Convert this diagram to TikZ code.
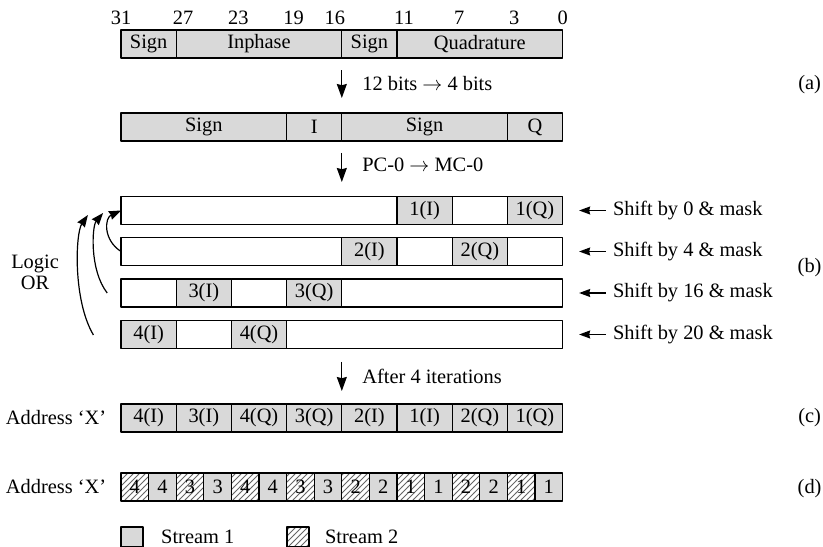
\documentclass[tikz,border=0pt]{standalone}
\usepackage{fontspec}
\setmainfont{Liberation Serif}
\usetikzlibrary{arrows.meta,patterns}

\begin{document}
\begin{tikzpicture}[x={(6.9pt,0pt)}, y={(0pt,-0.5pt)}, font=\fontsize{10.2}{12}\selectfont, line join=round,
  cell/.style={draw, line width=0.6pt, minimum height=14pt, inner sep=0pt, outer sep=0pt, anchor=west},
  grey/.style={cell, fill=black!15},
  hatch/.style={cell, pattern=north east lines, pattern color=black!60},
  down/.style={-{Stealth[length=7pt,width=5pt,inset=0.6pt]}, line width=0.6pt},
  back/.style={-{Stealth[length=5.5pt,width=4pt,inset=0.5pt]}, line width=0.6pt},
  orarrow/.style={-{Stealth[length=6pt,width=4.5pt,inset=0.5pt]}, line width=0.6pt}]
  \useasboundingbox (-8.77,0) rectangle (50.87,547);

  % numéros de bits (x en bits, y en px)
  \foreach \b/\x in {31/0, 27/4.5, 23/8.5, 19/12.5, 16/15.5, 11/20.5, 7/24.5, 3/28.5, 0/32}
    \node (bit\b) at (\x,18) {\b};

  % (a) mot de 32 bits
  \foreach \s/\w/\t in {0/4/Sign, 4/12/Inphase, 16/4/Sign, 20/12/Quadrature}
    \node[grey, minimum width=\w*6.9pt] (a\s) at (\s,44) {\t};
  \coordinate (d1a) at (16,70);
  \coordinate (d1b) at (16,98);
  \draw[down] (d1a) -- (d1b);
  \node[anchor=west] (lab1) at (16.98,84) {12 bits $\rightarrow$ 4 bits};

  \foreach \s/\w/\t in {0/12/Sign, 12/4/I, 16/12/Sign, 28/4/Q}
    \node[grey, minimum width=\w*6.9pt] (r\s) at (\s,127) {\t};
  \coordinate (d2a) at (16,153);
  \coordinate (d2b) at (16,182);
  \draw[down] (d2a) -- (d2b);
  \node[anchor=west] (lab2) at (16.98,165) {PC-0 $\rightarrow$ MC-0};

  % (b) décalage et masque
  \foreach \s/\w/\t/\f in {0/20//cell, 20/4/1(I)/grey, 24/4//cell, 28/4/1(Q)/grey}
    \node[\f, minimum width=\w*6.9pt] (b1-\s) at (\s,210.5) {\t};
  \foreach \s/\w/\t/\f in {0/16//cell, 16/4/2(I)/grey, 20/4//cell, 24/4/2(Q)/grey, 28/4//cell}
    \node[\f, minimum width=\w*6.9pt] (b2-\s) at (\s,251.5) {\t};
  \foreach \s/\w/\t/\f in {0/4//cell, 4/4/3(I)/grey, 8/4//cell, 12/4/3(Q)/grey, 16/16//cell}
    \node[\f, minimum width=\w*6.9pt] (b3-\s) at (\s,293) {\t};
  \foreach \s/\w/\t/\f in {0/4/4(I)/grey, 4/4//cell, 8/4/4(Q)/grey, 12/20//cell}
    \node[\f, minimum width=\w*6.9pt] (b4-\s) at (\s,334.5) {\t};

  \foreach \n/\y in {0/210.5, 4/251.5, 16/293, 20/334.5} {
    \node[anchor=west] (sh\n) at (35.14,\y) {Shift by \n{} \& mask};
    \coordinate (tip\n) at (33.2,\y);
    \draw[back] (sh\n) -- (tip\n);
  }

  % OU logique
  \node[align=center, font=\fontsize{10.2}{10.5}\selectfont] (or) at (-6.23,272) {Logic\\OR};
  \coordinate (or2) at (-1.0,293);
  \coordinate (or3) at (-2.0,335);
  \coordinate (in2) at (-1.3,213);
  \coordinate (in3) at (-2.4,215);
  \draw[orarrow] (b2-0.west) .. controls (-1.3,240) and (-1.2,218) .. (b1-0.west);
  \draw[orarrow] (or2) .. controls (-2.3,270) and (-2.1,226) .. (in2);
  \draw[orarrow] (or3) .. controls (-3.5,300) and (-3.3,233) .. (in3);

  \coordinate (d3a) at (16,362);
  \coordinate (d3b) at (16,391);
  \draw[down] (d3a) -- (d3b);
  \node[anchor=west] (lab3) at (16.98,376) {After 4 iterations};

  % (c) adresse finale
  \node (adc) at (-4.71,418) {Address ‘X’};
  \foreach \t [count=\i from 0] in {4(I),3(I),4(Q),3(Q),2(I),1(I),2(Q),1(Q)}
    \node[grey, minimum width=27.6pt] (c\i) at (4*\i,418) {\t};

  % (d) deux flux
  \node (add) at (-4.71,487) {Address ‘X’};
  \foreach \t [count=\i from 0] in {4,3,4,3,2,1,2,1} {
    \node[hatch, minimum width=13.8pt] (dh\i) at (4*\i,487) {\t};
    \node[grey, minimum width=13.8pt] (dg\i) at (4*\i+2,487) {\t};
  }

  % légende
  \node[grey, minimum width=11pt, minimum height=10pt] (leg1) at (0,537) {};
  \node[anchor=west] (st1) at (2.4,537) {Stream 1};
  \node[hatch, minimum width=11pt, minimum height=10pt] (leg2) at (12.03,537) {};
  \node[anchor=west] (st2) at (14.28,537) {Stream 2};

  % repères
  \node (pa) at (49.9,85) {(a)};
  \node (pb) at (49.9,268) {(b)};
  \node (pc) at (49.9,418) {(c)};
  \node (pd) at (49.9,489) {(d)};
\end{tikzpicture}
\end{document}
